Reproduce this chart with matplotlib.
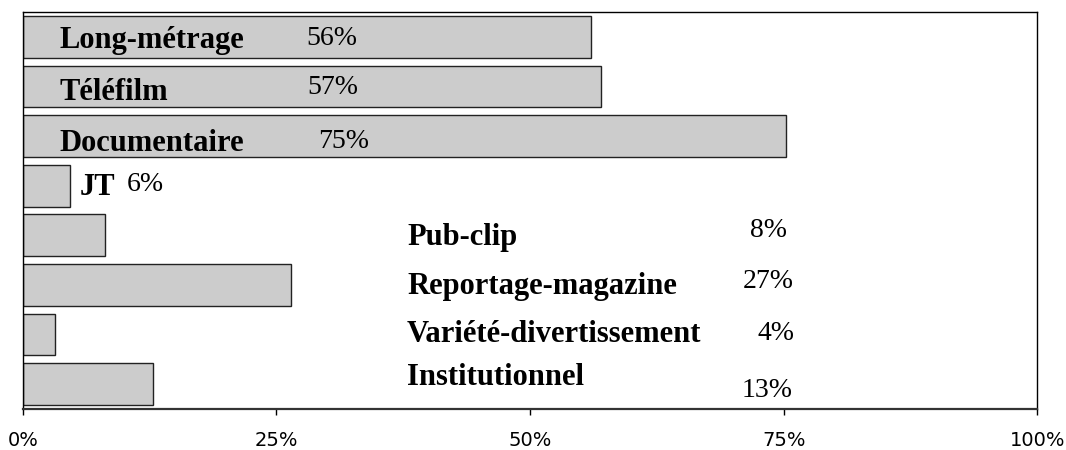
import matplotlib
matplotlib.use("Agg")
import matplotlib.pyplot as plt

# Data
categories = ["Long-métrage", "Téléfilm", "Documentaire", "JT", "Pub-clip",
              "Reportage-magazine", "Variété-divertissement", "Institutionnel"]
bar_values = [56, 57, 75.2, 4.7, 8.1, 26.4, 3.2, 12.8]
value_labels = ["56%", "57%", "75%", "6%", "8%", "27%", "4%", "13%"]
tick_values = [0, 25, 50, 75, 100]
tick_labels = ["0%", "25%", "50%", "75%", "100%"]

# Layout (pixel positions of the annotations: x-left, baseline y)
W, H = 1066, 450
ax_left, ax_right, ax_top, ax_bottom = 22.7, 1037.3, 12.3, 408.7
cat_pos = [(59, 48), (59, 100), (59, 151), (80, 195), (407, 245),
           (407, 294), (407, 342), (407, 385)]
val_pos = [(306, 45), (307, 94), (318, 148), (127, 191), (750, 237),
           (743, 288), (757, 340), (742, 397)]

fig = plt.figure(figsize=(W / 100, H / 100), dpi=100)
ax = fig.add_axes([ax_left / W, 1 - ax_bottom / H,
                   (ax_right - ax_left) / W, (ax_bottom - ax_top) / H])

n = len(categories)
ax.barh(range(n), bar_values, height=0.84, color="#cccccc",
        edgecolor="#222222", linewidth=1.0)
ax.set_xlim(0, 100)
ax.set_ylim(n - 0.5, -0.5)
ax.set_yticks([])
ax.set_xticks(tick_values)
ax.set_xticklabels(tick_labels, fontsize=14, family="DejaVu Sans")
ax.tick_params(axis="x", direction="out", length=4, width=1, pad=12,
               colors="black")
for s in ax.spines.values():
    s.set_color("black")
    s.set_linewidth(1.0)
ax.spines["bottom"].set_linewidth(1.6)
ax.spines["bottom"].set_color("#333333")


def to_data(px, py):
    x = (px - ax_left) / (ax_right - ax_left) * 100
    y = -0.5 + (py - ax_top) / (ax_bottom - ax_top) * n
    return x, y


for name, (px, py) in zip(categories, cat_pos):
    x, y = to_data(px, py)
    ax.text(x, y, name, fontsize=22, fontweight="bold",
            family="Liberation Serif", ha="left", va="baseline")
for lab, (px, py) in zip(value_labels, val_pos):
    x, y = to_data(px, py)
    ax.text(x, y, lab, fontsize=20, family="Liberation Serif",
            ha="left", va="baseline")

fig.savefig("out.png", dpi=100)
